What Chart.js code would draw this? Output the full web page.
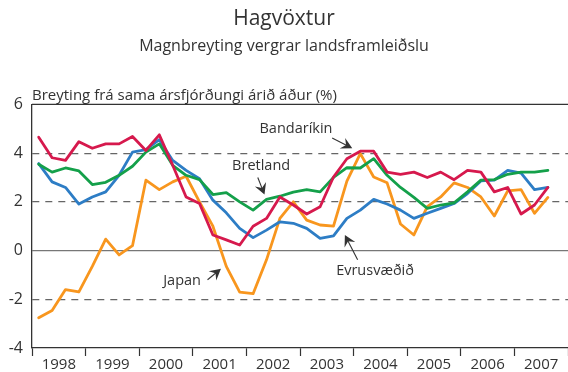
<!DOCTYPE html>
<html>
<head>
<meta charset="utf-8">
<script src="https://cdn.jsdelivr.net/npm/chart.js@4"></script>
<style>
  html, body { margin: 0; padding: 0; background: #fff; }
  #wrap { position: relative; width: 568px; height: 372px; }
</style>
</head>
<body>
<div id="wrap"><canvas id="gdp"></canvas></div>
<script>
// Quarterly GDP growth, 1998Q1 – 2007Q3, % change on same quarter a year earlier
const years = ['1998', '1999', '2000', '2001', '2002', '2003', '2004', '2005', '2006', '2007'];

const usa = [4.65, 3.81, 3.70, 4.47, 4.20, 4.38, 4.38, 4.68, 4.11, 4.75, 3.50, 2.20, 1.93, 0.64, 0.44, 0.23,
  1.00, 1.32, 2.20, 1.87, 1.50, 1.80, 3.02, 3.77, 4.08, 4.08, 3.22, 3.13, 3.22, 3.00, 3.22, 2.91,
  3.29, 3.22, 2.41, 2.59, 1.50, 1.87, 2.59];
const uk = [3.54, 3.22, 3.39, 3.27, 2.71, 2.80, 3.09, 3.46, 4.04, 4.38, 3.50, 3.09, 2.91, 2.30, 2.38, 2.00,
  1.66, 2.10, 2.23, 2.40, 2.50, 2.41, 3.00, 3.40, 3.39, 3.77, 3.09, 2.59, 2.18, 1.73, 1.87, 1.96,
  2.41, 2.89, 2.91, 3.13, 3.22, 3.22, 3.29];
const euro = [3.57, 2.82, 2.59, 1.91, 2.20, 2.41, 3.09, 4.04, 4.14, 4.55, 3.70, 3.29, 2.95, 2.07, 1.55, 0.91,
  0.53, 0.84, 1.18, 1.12, 0.91, 0.50, 0.60, 1.32, 1.66, 2.10, 1.91, 1.66, 1.32, 1.53, 1.73, 1.93,
  2.34, 2.86, 2.89, 3.29, 3.18, 2.50, 2.59];
const japan = [-2.76, -2.46, -1.60, -1.70, -0.65, 0.47, -0.18, 0.20, 2.89, 2.50, 2.82, 3.05, 2.00, 1.00, -0.65, -1.71,
  -1.77, -0.38, 1.32, 2.00, 1.25, 1.05, 1.00, 2.85, 3.98, 3.02, 2.78, 1.09, 0.64, 1.80, 2.20, 2.78,
  2.59, 2.20, 1.42, 2.45, 2.50, 1.53, 2.18];

const FONT = '"Open Sans", "DejaVu Sans", sans-serif';
const INK = '#333';

// each quarter sits in the middle of its slot on a 0..40 quarter scale
const pts = arr => arr.map((v, i) => ({ x: i + 0.5, y: v }));
const line = (label, data, color) => ({
  label, data: pts(data), borderColor: color, backgroundColor: color,
  borderWidth: 2.8, pointRadius: 0, tension: 0, borderJoinStyle: 'round', borderCapStyle: 'round'
});

// series labels with little pointer arrows, in data coordinates
const callouts = [
  { text: 'Bandaríkin', tx: 19.7, ty: 5.0, from: [22.4, 4.62], to: [23.9, 4.2] },
  { text: 'Bretland', tx: 17.1, ty: 3.46, from: [16.85, 3.0], to: [17.35, 2.3] },
  { text: 'Japan', tx: 11.2, ty: -1.25, from: [13.1, -1.2], to: [14.1, -0.75] },
  { text: 'Evrusvæðið', tx: 25.6, ty: -0.83, from: [24.3, -0.38], to: [23.35, 0.64] }
];

const extras = {
  id: 'extras',
  beforeDatasetsDraw(chart) {
    const { ctx, chartArea: a, scales: { y } } = chart;
    ctx.save();
    // solid zero line and top frame
    ctx.lineWidth = 1.3;
    ctx.strokeStyle = '#777';
    ctx.beginPath();
    ctx.moveTo(a.left, y.getPixelForValue(0));
    ctx.lineTo(a.right, y.getPixelForValue(0));
    ctx.stroke();
    ctx.strokeStyle = INK;
    ctx.beginPath();
    ctx.moveTo(a.left, y.getPixelForValue(6));
    ctx.lineTo(a.right, y.getPixelForValue(6));
    ctx.stroke();
    ctx.restore();
  },
  afterDraw(chart) {
    const { ctx, chartArea: a, scales: { x, y } } = chart;
    ctx.save();
    ctx.fillStyle = INK;
    ctx.font = '15px ' + FONT;
    ctx.textBaseline = 'alphabetic';
    ctx.textAlign = 'left';
    ctx.fillText('Breyting frá sama ársfjórðungi árið áður (%)', a.left, a.top - 4);

    ctx.textBaseline = 'middle';
    ctx.font = '14.5px ' + FONT;
    callouts.forEach(c => {
      ctx.textAlign = 'center';
      ctx.fillText(c.text, x.getPixelForValue(c.tx), y.getPixelForValue(c.ty));
      const x0 = x.getPixelForValue(c.from[0]), y0 = y.getPixelForValue(c.from[1]);
      const x1 = x.getPixelForValue(c.to[0]), y1 = y.getPixelForValue(c.to[1]);
      const ang = Math.atan2(y1 - y0, x1 - x0);
      ctx.strokeStyle = INK;
      ctx.lineWidth = 1.1;
      ctx.beginPath();
      ctx.moveTo(x0, y0);
      ctx.lineTo(x1 - 5 * Math.cos(ang), y1 - 5 * Math.sin(ang));
      ctx.stroke();
      // barbed arrow head
      ctx.translate(x1, y1);
      ctx.rotate(ang);
      ctx.beginPath();
      ctx.moveTo(0, 0);
      ctx.lineTo(-11, -6);
      ctx.lineTo(-7, 0);
      ctx.lineTo(-11, 6);
      ctx.closePath();
      ctx.fill();
      ctx.setTransform(1, 0, 0, 1, 0, 0);
    });
    ctx.restore();
  }
};

new Chart(document.getElementById('gdp'), {
  type: 'line',
  data: {
    datasets: [
      line('Bandaríkin', usa, '#d6194d'),
      line('Bretland', uk, '#14a04a'),
      line('Evrusvæðið', euro, '#2d7dc5'),
      line('Japan', japan, '#f8961e')
    ]
  },
  options: {
    responsive: true, maintainAspectRatio: false, animation: false,
    plugins: {
      legend: { display: false },
      tooltip: { enabled: false },
      title: {
        display: true, text: 'Hagvöxtur', color: INK,
        font: { family: FONT, size: 21, weight: 'normal' }, padding: { top: 6, bottom: 6 }
      },
      subtitle: {
        display: true, text: 'Magnbreyting vergrar landsframleiðslu', color: INK,
        font: { family: FONT, size: 16 }, padding: { top: 0, bottom: 48 }
      }
    },
    scales: {
      x: {
        type: 'linear', min: 0, max: 40,
        afterFit: s => { s.height = 24; },
        afterBuildTicks: s => { s.ticks = Array.from({ length: 21 }, (_, i) => ({ value: i * 2 })); },
        grid: {
          drawOnChartArea: false, tickLength: 8, tickWidth: 1.2,
          tickColor: c => (c.tick && c.tick.value % 4 === 0) ? INK : 'rgba(0,0,0,0)'
        },
        border: { display: true, color: INK, width: 1.3 },
        ticks: {
          autoSkip: false, maxRotation: 0, padding: 0, color: INK,
          font: { family: FONT, size: 15 },
          callback: v => v % 4 === 2 ? years[(v - 2) / 4] : ''
        }
      },
      y: {
        min: -4, max: 6,
        afterFit: s => { s.width = 32; },
        ticks: { stepSize: 2, padding: 9, color: INK, font: { family: FONT, size: 16 } },
        grid: {
          drawTicks: false,
          color: c => [2, 4, -2].includes(c.tick && c.tick.value) ? '#666' : 'rgba(0,0,0,0)',
          lineWidth: 1.2
        },
        border: { display: true, color: INK, width: 1.3, dash: [7, 6] }
      }
    }
  },
  plugins: [extras]
});
</script>
</body>
</html>
